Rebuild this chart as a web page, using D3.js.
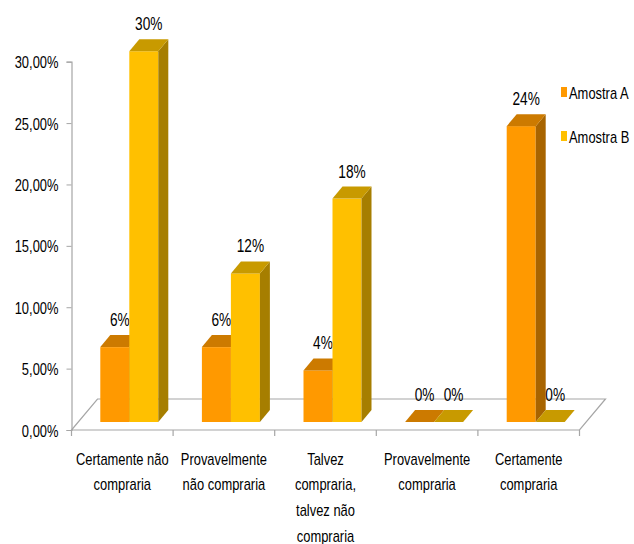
<!DOCTYPE html>
<html>
<head>
<meta charset="utf-8">
<script src="https://cdn.jsdelivr.net/npm/d3@7"></script>
<style>
  body { margin: 0; background: #fff; }
  svg text { font-family: "Liberation Sans", Arial, sans-serif; fill: #000; }
</style>
</head>
<body>
<div id="chart"></div>
<script>
const categories = [
  ["Certamente não", "compraria"],
  ["Provavelmente", "não compraria"],
  ["Talvez", "compraria,", "talvez não", "compraria"],
  ["Provavelmente", "compraria"],
  ["Certamente", "compraria"]
];
const seriesNames = ["Amostra A", "Amostra B"];
const amostraA = [0.061, 0.061, 0.042, 0, 0.241];
const amostraB = [0.302, 0.121, 0.182, 0, 0];
const yTicks = [0, 0.05, 0.10, 0.15, 0.20, 0.25, 0.30];

const W = 634, H = 544;
const FLOOR = {dx: 26, dy: -31};   // depth of the floor
const PLANE = {dx: 7, dy: -8};     // where bar fronts sit
const BAR = {dx: 10, dy: -12};     // bar depth
const barW = 29;
const NARROW = 0.76;               // fake an Arial Narrow look

const colors = {
  A: {front: "#FF9900", top: "#CC7A00", side: "#A86400"},
  B: {front: "#FFC000", top: "#C89A00", side: "#A67E00"}
};

const keys = categories.map((c, i) => "c" + i);
const data = keys.map((k, i) => ({key: k, lines: categories[i], A: amostraA[i], B: amostraB[i]}));

const svg = d3.select("#chart").append("svg")
  .attr("width", W).attr("height", H);

const x = d3.scaleBand().domain(keys).range([71.5, 579.5]).padding(0);
const x1 = d3.scaleBand().domain(["A", "B"]).range([0, barW * 2]).padding(0);
const y = d3.scaleLinear().domain([0, 0.30]).range([430, 61.7]);

const ptBR = d3.formatLocale({decimal: ",", thousands: ".", grouping: [3], currency: ["R$", ""]});

// floor
const x0 = x.range()[0], xN = x.range()[1], y0 = y(0);
svg.append("path")
  .attr("d", `M${x0},${y0} L${xN},${y0} L${xN + FLOOR.dx},${y0 + FLOOR.dy} L${x0 + FLOOR.dx},${y0 + FLOOR.dy} Z`)
  .attr("fill", "#fff")
  .attr("stroke", "#A6A6A6")
  .attr("stroke-width", 1.2);

// y axis
const yAxis = svg.append("g")
  .attr("transform", `translate(${x0},0)`)
  .call(d3.axisLeft(y).tickValues(yTicks).tickFormat(ptBR.format(".2%")).tickSize(5).tickPadding(8));
yAxis.select(".domain").attr("stroke", "#A6A6A6").attr("stroke-width", 1.2);
yAxis.selectAll(".tick line").attr("stroke", "#A6A6A6");
yAxis.selectAll(".tick text").attr("font-size", 17).attr("dy", "0.36em");

// x axis ticks at category boundaries
const xAxis = svg.append("g").attr("transform", `translate(0,${y0})`);
xAxis.selectAll("line")
  .data(keys.map(k => x(k)).concat([xN]))
  .join("line")
  .attr("x1", d => d).attr("x2", d => d)
  .attr("y1", 0).attr("y2", 6)
  .attr("stroke", "#A6A6A6").attr("stroke-width", 1.2);

// category labels
const catG = svg.append("g");
data.forEach(d => {
  const cx = x(d.key) + x.bandwidth() / 2;
  d.lines.forEach((l, i) => {
    catG.append("text")
      .attr("text-anchor", "middle")
      .attr("font-size", 17)
      .attr("x", cx)
      .attr("y", 464.5 + i * 25.7)
      .text(l);
  });
});

// bars
const barsG = svg.append("g");
const pairOffset = (x.bandwidth() - barW * 2) / 2;
data.forEach(d => {
  ["A", "B"].forEach(s => {
    const v = d[s];
    const c = colors[s];
    const fx = x(d.key) + pairOffset + x1(s) + PLANE.dx;
    const fb = y(0) + PLANE.dy;
    const ft = y(v) + PLANE.dy;
    const g = barsG.append("g");
    if (v > 0) {
      g.append("rect")
        .attr("x", fx).attr("y", ft)
        .attr("width", barW).attr("height", fb - ft)
        .attr("fill", c.front);
      g.append("path")
        .attr("d", `M${fx + barW},${ft} L${fx + barW + BAR.dx},${ft + BAR.dy} L${fx + barW + BAR.dx},${fb + BAR.dy} L${fx + barW},${fb} Z`)
        .attr("fill", c.side);
    }
    g.append("path")
      .attr("d", `M${fx},${ft} L${fx + barW},${ft} L${fx + barW + BAR.dx},${ft + BAR.dy} L${fx + BAR.dx},${ft + BAR.dy} Z`)
      .attr("fill", c.top);
    // value label
    g.append("text")
      .attr("text-anchor", "middle")
      .attr("font-size", 18)
      .attr("x", fx + barW / 2 + BAR.dx / 2)
      .attr("y", ft + BAR.dy - 9)
      .text(Math.round(v * 100) + "%");
  });
});

// legend
const legend = svg.append("g").attr("transform", "translate(561,87)");
seriesNames.forEach((n, i) => {
  const s = i === 0 ? "A" : "B";
  const row = legend.append("g").attr("transform", `translate(0,${i * 44})`);
  row.append("rect").attr("width", 6).attr("height", 10).attr("fill", colors[s].front);
  row.append("text").attr("x", 8).attr("y", 11.5).attr("font-size", 17).text(n);
});

// squeeze every text horizontally around its anchor
svg.selectAll("text").each(function () {
  const len = this.getComputedTextLength();
  d3.select(this)
    .attr("textLength", len * NARROW)
    .attr("lengthAdjust", "spacingAndGlyphs");
});
</script>
</body>
</html>
